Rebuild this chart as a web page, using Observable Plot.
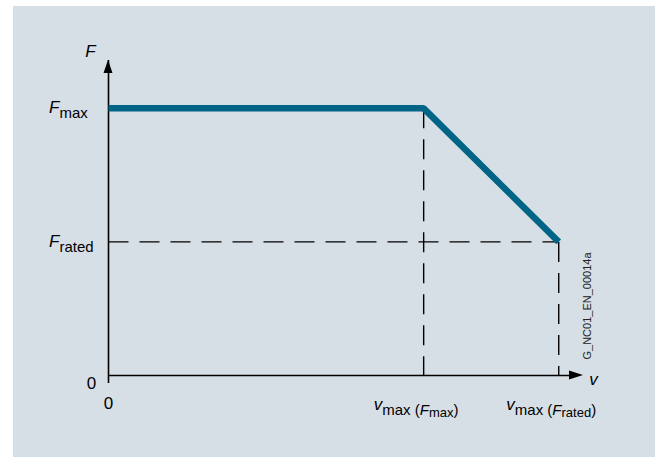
<!DOCTYPE html>
<html><head><meta charset="utf-8">
<script src="https://cdn.jsdelivr.net/npm/d3@7"></script>
<script src="https://cdn.jsdelivr.net/npm/@observablehq/plot@0.6"></script>
<style>
html,body{margin:0;padding:0;background:#fff;}
#chart{position:absolute;left:13px;top:6px;}
</style></head><body><div id="chart"></div>
<script>
// ---- chart values ----
const vPoints = [0, 0.7, 1.0];          // speed breakpoints (0, vmax(Fmax), vmax(Frated))
const fPoints = [1.0, 1.0, 0.5];        // force at those speeds (Fmax, Fmax, Frated)
const vTickValues = [0.7, 1.0];
const vTickLabels = ["v_{max} (F_{max})", "v_{max} (F_{rated})"];
const fTickValues = [1.0, 0.5];
const fTickLabels = ["F_{max}", "F_{rated}"];
const zeroLabel = "0";
const axisNames = ["F", "v"];
const vAxisEnd = 1.055;
const fAxisEnd = 1.179;
const codeLabel = "G_NC01_EN_00014a";

const curve = vPoints.map((v, i) => ({v, F: fPoints[i]}));
const fMax = d3.max(fPoints);
const guidesV = curve.filter(d => d.v > 0);
const guidesH = curve.filter(d => d.F < fMax);

const FONT = "'Liberation Sans', Arial, sans-serif";
const lineColor = "#006487";
const dash = "20,11";

const plot = Plot.plot({
  width: 642, height: 451,
  marginLeft: 95, marginRight: 72, marginTop: 54, marginBottom: 82,
  x: {domain: [0, vAxisEnd], axis: null},
  y: {domain: [0, fAxisEnd], axis: null},
  style: {background: "#d6dfe6", fontFamily: FONT, color: "#000", overflow: "visible"},
  marks: [
    Plot.link(guidesV, {x1: "v", x2: "v", y1: "F", y2: 0, stroke: "#000", strokeWidth: 1.4, strokeDasharray: dash}),
    Plot.link(guidesH, {x1: 0, x2: "v", y1: "F", y2: "F", stroke: "#000", strokeWidth: 1.4, strokeDasharray: dash}),
    Plot.ruleX([0], {y1: 0, y2: fAxisEnd, insetTop: 8, stroke: "#000", strokeWidth: 1.6}),
    Plot.ruleY([0], {x1: 0, x2: vAxisEnd, insetRight: 8, stroke: "#000", strokeWidth: 1.6}),
    Plot.line(curve, {x: "v", y: "F", stroke: lineColor, strokeWidth: 6.5, strokeLinejoin: "miter", strokeLinecap: "butt"}),
    Plot.text([axisNames[0]], {x: 0, y: fAxisEnd, text: d => d, dx: -18, dy: -9, fontStyle: "italic", fontSize: 17}),
    Plot.text([axisNames[1]], {x: vAxisEnd, y: 0, text: d => d, dx: 10, dy: 4, fontStyle: "italic", fontSize: 17}),
    Plot.text([zeroLabel], {x: 0, y: 0, text: d => d, dx: -17, dy: 8, fontSize: 17}),
    Plot.text([zeroLabel], {x: 0, y: 0, text: d => d, dy: 28, fontSize: 17}),
    Plot.text([codeLabel], {frameAnchor: "right", text: d => d, rotate: -90, textAnchor: "middle", dx: 4, dy: 88, fontSize: 11, fill: "#222"})
  ]
});

// scale helpers
const xs = plot.scale("x"), ys = plot.scale("y");
const sx = v => xs.apply(v), sy = v => ys.apply(v);
const svg = d3.select(plot);

// filled arrowheads at the axis ends
const up = [sx(0), sy(fAxisEnd)], right = [sx(vAxisEnd), sy(0)];
svg.append("path").attr("fill", "#000")
  .attr("d", `M${up[0]},${up[1]}L${up[0] + 4.5},${up[1] + 13}L${up[0] - 4.5},${up[1] + 13}Z`);
svg.append("path").attr("fill", "#000")
  .attr("d", `M${right[0]},${right[1]}L${right[0] - 14},${right[1] - 4.5}L${right[0] - 14},${right[1] + 4.5}Z`);

// rich labels (italic letters with subscripts)
function parse(s) {
  const out = []; const re = /([A-Za-z])_\{([^}]*)\}/g; let last = 0, m;
  while ((m = re.exec(s))) {
    if (m.index > last) out.push({t: s.slice(last, m.index), kind: "plain"});
    out.push({t: m[1], kind: "main"}); out.push({t: m[2], kind: "sub"});
    last = re.lastIndex;
  }
  if (last < s.length) out.push({t: s.slice(last), kind: "plain"});
  return out;
}
// [main size, sub size, sub shift] per parenthesis depth
const levels = [[17, 15, 5], [15, 13, 2]];
function rich(x, y, str, anchor) {
  const t = svg.append("text").attr("x", x).attr("y", y).attr("text-anchor", anchor)
    .attr("font-family", FONT).attr("fill", "#000");
  let depth = 0, cur = 0;
  for (const seg of parse(str)) {
    const L = levels[Math.min(depth, 1)];
    const base = depth > 0 ? levels[0][2] : 0;
    let target, size, italic = false;
    if (seg.kind === "main") { target = base; size = L[0]; italic = true; }
    else if (seg.kind === "sub") { target = base + L[2]; size = L[1]; }
    else { target = levels[0][2]; size = levels[0][1]; }
    t.append("tspan").attr("dy", target - cur).attr("font-size", size)
      .attr("font-style", italic ? "italic" : "normal").text(seg.t);
    cur = target;
    if (seg.kind === "plain") {
      for (const ch of seg.t) { if (ch === "(") depth++; if (ch === ")") depth--; }
    }
  }
}
fTickValues.forEach((f, i) => rich(sx(0) - 59, sy(f) + 5.5, fTickLabels[i], "start"));
vTickValues.forEach((v, i) => rich(sx(v) - 7, sy(0) + 35, vTickLabels[i], "middle"));

document.getElementById("chart").appendChild(plot);
</script>
</body></html>
